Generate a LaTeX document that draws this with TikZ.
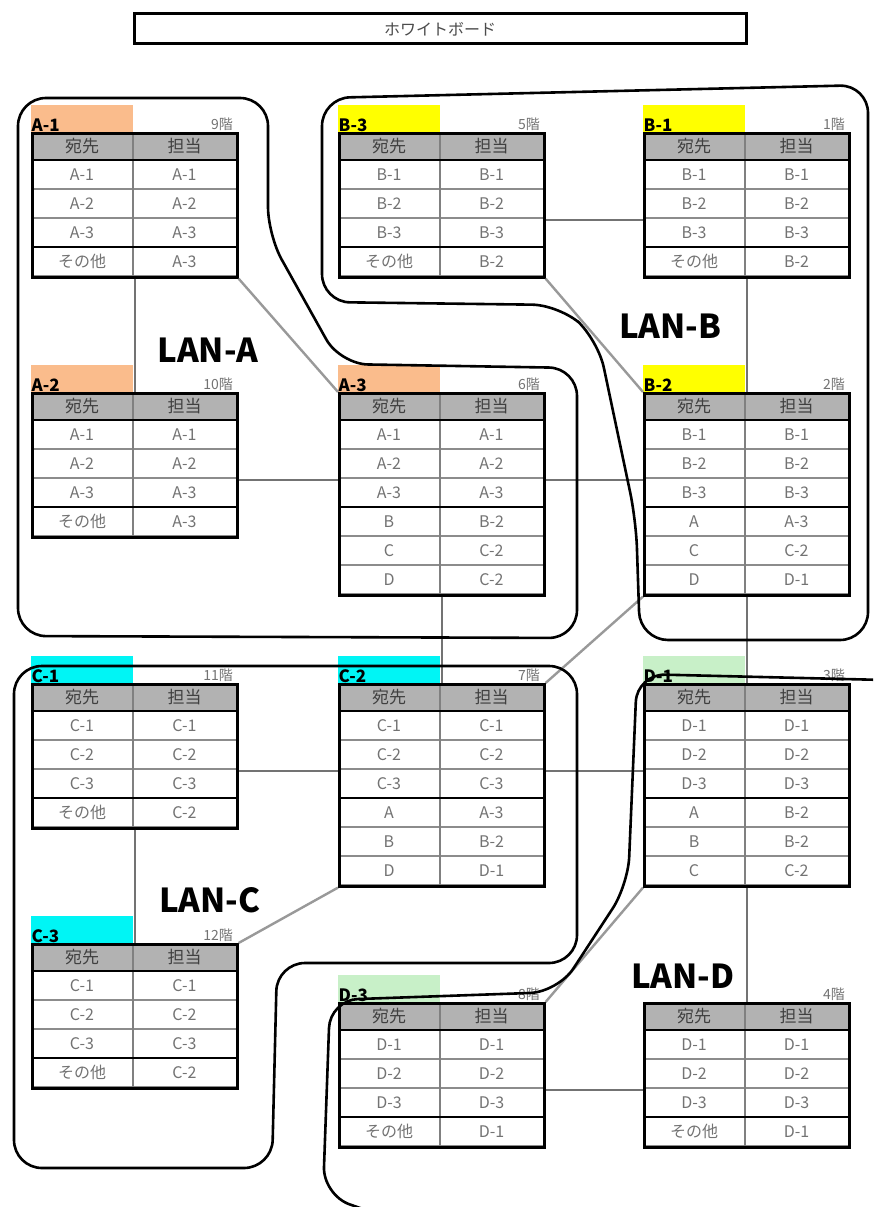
\documentclass[tikz,border=0pt]{standalone}
\usepackage{fontspec}
\newfontfamily\jp{Noto Sans CJK JP}
\definecolor{cA}{RGB}{250,188,140}
\definecolor{cB}{RGB}{255,255,0}
\definecolor{cC}{RGB}{0,245,245}
\definecolor{cD}{RGB}{200,240,200}
\tikzset{
  tbl/.style={draw=black, line width=2.6pt, minimum width=205pt, inner sep=0pt, anchor=north west},
  hdr/.style={font=\jp\fontsize{17}{17}\selectfont, text=black!75, inner sep=0pt},
  cell/.style={font=\jp\fontsize{16}{16}\selectfont, text=black!55, inner sep=0pt},
  lbl/.style={font=\jp\bfseries\fontsize{17}{17}\selectfont, anchor=south west, inner sep=0.5pt},
  flr/.style={font=\jp\fontsize{14}{14}\selectfont, text=black!55, anchor=south east, inner sep=1pt},
  conn/.style={draw=black!55, line width=2.4pt},
  dconn/.style={draw=black!40, line width=2.4pt},
  lan/.style={draw=black, line width=2.6pt, rounded corners=28pt},
  lanlbl/.style={font=\jp\bfseries\fontsize{33}{33}\selectfont},
}
% name, x, y, label, floor, colour, rows, entries
\newcommand{\rtab}[8]{%
  \def\rtlabel{#4}%
  \ifx\rtlabel\empty\else
    \fill[#6] (#2,#3-27) rectangle (#2+102,#3);
    \node[lbl] (#1-lbl) at (#2,#3) {#4};
  \fi
  \node[flr] (#1-flr) at (#2+203,#3) {#5};
  \fill[black!30] (#2,#3) rectangle (#2+205,#3+28);
  \node[hdr] (#1-h1) at (#2+51,#3+14) {宛先};
  \node[hdr] (#1-h2) at (#2+153.5,#3+14) {担当};
  \foreach \dst/\rsp [count=\i] in {#8} {
    \node[cell] (#1-d\i) at (#2+51,#3+28+29*\i-14.5) {\dst};
    \node[cell] (#1-r\i) at (#2+153.5,#3+28+29*\i-14.5) {\rsp};
    \draw[black!45, line width=1.3pt] (#2,#3+28+29*\i) -- (#2+205,#3+28+29*\i);
  }
  \draw[black!50, line width=1.5pt] (#2+102,#3) -- (#2+102,#3+28+29*#7);
  \draw[black, line width=2.6pt] (#2,#3+28) -- (#2+205,#3+28);
  \draw[black, line width=2.6pt] (#2,#3+115) -- (#2+205,#3+115);
  \node[tbl, minimum height={(28+29*#7)*1pt}] (#1) at (#2,#3) {};
}
\begin{document}
\begin{tikzpicture}[x=1pt,y=-1pt]
\useasboundingbox (0,0) rectangle (873,1207);
\clip (0,0) rectangle (873,1207);
\fill[white] (0,0) rectangle (873,1207);

% whiteboard
\node[draw=black, line width=3pt, minimum width=612pt, minimum height=30pt, inner sep=0pt,
      font=\jp\fontsize{16}{16}\selectfont, text=black!70] (wb) at (440,29) {ホワイトボード};

% tables
\rtab{A1}{31}{132}{A-1}{9階}{cA}{4}{A-1/A-1,A-2/A-2,A-3/A-3,その他/A-3}
\rtab{B3}{338}{132}{B-3}{5階}{cB}{4}{B-1/B-1,B-2/B-2,B-3/B-3,その他/B-2}
\rtab{B1}{643}{132}{B-1}{1階}{cB}{4}{B-1/B-1,B-2/B-2,B-3/B-3,その他/B-2}
\rtab{A2}{31}{392}{A-2}{10階}{cA}{4}{A-1/A-1,A-2/A-2,A-3/A-3,その他/A-3}
\rtab{A3}{338}{392}{A-3}{6階}{cA}{6}{A-1/A-1,A-2/A-2,A-3/A-3,B/B-2,C/C-2,D/C-2}
\rtab{B2}{643}{392}{B-2}{2階}{cB}{6}{B-1/B-1,B-2/B-2,B-3/B-3,A/A-3,C/C-2,D/D-1}
\rtab{C1}{31}{683}{C-1}{11階}{cC}{4}{C-1/C-1,C-2/C-2,C-3/C-3,その他/C-2}
\rtab{C2}{338}{683}{C-2}{7階}{cC}{6}{C-1/C-1,C-2/C-2,C-3/C-3,A/A-3,B/B-2,D/D-1}
\rtab{D1}{643}{683}{D-1}{3階}{cD}{6}{D-1/D-1,D-2/D-2,D-3/D-3,A/B-2,B/B-2,C/C-2}
\rtab{C3}{31}{943}{C-3}{12階}{cC}{4}{C-1/C-1,C-2/C-2,C-3/C-3,その他/C-2}
\rtab{D3}{338}{1002}{D-3}{8階}{cD}{4}{D-1/D-1,D-2/D-2,D-3/D-3,その他/D-1}
\rtab{D2}{643}{1002}{}{4階}{white}{4}{D-1/D-1,D-2/D-2,D-3/D-3,その他/D-1}

% connectors
\draw[conn] (A1.south) -- (A2.north);
\draw[conn] (B1.south) -- (B2.north);
\draw[conn] (A3.south) -- (C2.north);
\draw[conn] (B2.south) -- (D1.north);
\draw[conn] (D1.south) -- (D2.north);
\draw[conn] (C1.south) -- (C3.north);
\draw[conn] ([yshift=-88pt]B3.north east) -- ([yshift=-88pt]B1.north west);
\draw[conn] ([yshift=-88pt]A2.north east) -- ([yshift=-88pt]A3.north west);
\draw[conn] ([yshift=-88pt]A3.north east) -- ([yshift=-88pt]B2.north west);
\draw[conn] ([yshift=-88pt]C1.north east) -- ([yshift=-88pt]C2.north west);
\draw[conn] ([yshift=-88pt]C2.north east) -- ([yshift=-88pt]D1.north west);
\draw[conn] ([yshift=-88pt]D3.north east) -- ([yshift=-88pt]D2.north west);
\draw[dconn] (A1.south east) -- (A3.north west);
\draw[dconn] (B3.south east) -- (B2.north west);
\draw[dconn] (B2.south west) -- (C2.north east);
\draw[dconn] (C3.north east) -- (C2.south west);
\draw[dconn] (D1.south west) -- (D3.north east);

% LAN boundaries
\draw[lan] (18,370) -- (18,98) -- (268,98) -- (268,235) -- (340,364) -- (577,368)
  -- (577,638) -- (18,636) -- cycle;
\draw[lan] (322,200) -- (322,98) -- (868,85) -- (868,640) -- (640,640) -- (636,520)
  -- (598,340) -- (560,305) -- (322,302) -- cycle;
\draw[lan] (14,900) -- (14,666) -- (577,666) -- (577,963) -- (277,963) -- (272,1168)
  -- (14,1168) -- cycle;
\draw[lan] (885,680) -- (637,674) -- (628,885) -- (558,992) -- (330,1000)
  -- (323,1195) -- (380,1215);

% LAN labels
\node[lanlbl] (lanA) at (208,350) {LAN-A};
\node[lanlbl] (lanB) at (670,326) {LAN-B};
\node[lanlbl] (lanC) at (210,900) {LAN-C};
\node[lanlbl] (lanD) at (683,976) {LAN-D};
\end{tikzpicture}
\end{document}
